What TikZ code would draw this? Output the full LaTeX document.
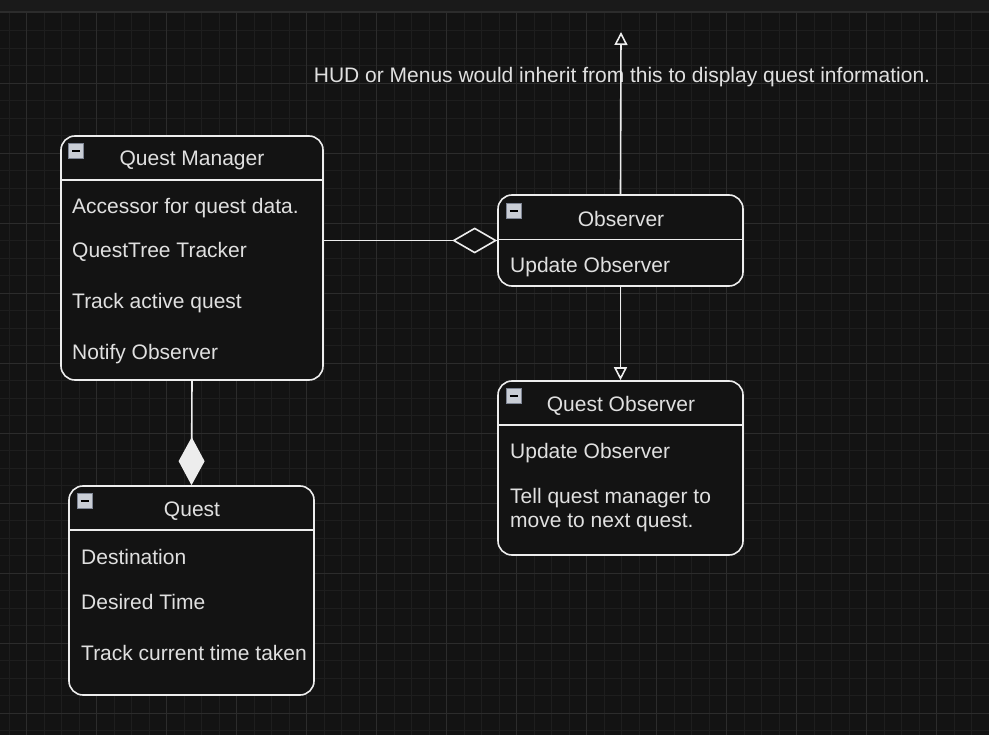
\documentclass[tikz,border=0pt]{standalone}
\usepackage{fontspec}
\setmainfont{Liberation Sans}
\usepackage{tikz}
\usetikzlibrary{arrows.meta, positioning, calc}

\definecolor{bgcol}{HTML}{131313}
\definecolor{topcol}{HTML}{1A1A1A}
\definecolor{gridminor}{HTML}{1E1E1E}
\definecolor{gridmajor}{HTML}{2C2C2C}
\definecolor{linecol}{HTML}{EDEDED}
\definecolor{txtcol}{HTML}{E0E0E0}
\definecolor{iconfill}{HTML}{C9CDD5}
\definecolor{iconline}{HTML}{7E8594}

\begin{document}
\begin{tikzpicture}[
	x=1pt, y=-1pt,
	font=\fontsize{21}{24}\selectfont,
	every node/.style={text=txtcol},
	classbox/.style={draw=linecol, line width=1.6pt, rounded corners=14pt, fill=bgcol, inner sep=0pt},
	sep/.style={draw=linecol, line width=1.6pt},
	title/.style={anchor=center, inner sep=0pt},
	item/.style={anchor=west, inner sep=0pt, align=left},
	icon/.style={draw=iconline, fill=iconfill, line width=0.8pt, minimum size=15pt, inner sep=0pt},
	aggr/.style={draw=linecol, line width=1.6pt, -{Diamond[open, length=45pt, width=26pt, fill=bgcol]}},
	comp/.style={draw=linecol, line width=1.6pt, -{Diamond[length=48pt, width=26pt, fill=linecol]}},
	inherit/.style={draw=linecol, line width=1.6pt, -{Triangle[open, length=13pt, width=13pt, fill=bgcol]}}
]

% Background and grid
\useasboundingbox (0,0) rectangle (989,735);
\fill[bgcol] (0,0) rectangle (989,735);
\foreach \gx in {9.2,26.7,...,989} \draw[gridminor, line width=0.8pt] (\gx,12) -- (\gx,735);
\foreach \gy in {30.8,48.3,...,735} \draw[gridminor, line width=0.8pt] (0,\gy) -- (989,\gy);
\foreach \gx in {26.7,96.7,...,989} \draw[gridmajor, line width=1pt] (\gx,12) -- (\gx,735);
\foreach \gy in {83.3,153.3,...,735} \draw[gridmajor, line width=1pt] (0,\gy) -- (989,\gy);
\fill[topcol] (0,0) rectangle (989,12);
\draw[gridmajor, line width=1.2pt] (0,12) -- (989,12);

% Nodes
\node[classbox, minimum width=262pt, minimum height=244pt] (qm) at (192,258) {};
\node[classbox, minimum width=245pt, minimum height=91pt] (obs) at (620.5,240.5) {};
\node[classbox, minimum width=245pt, minimum height=174pt] (qobs) at (620.5,468) {};
\node[classbox, minimum width=245pt, minimum height=209pt] (quest) at (191.5,590.5) {};

\draw[sep] ($(qm.north west)+(0,45)$) -- ($(qm.north east)+(0,45)$);
\draw[sep] ($(obs.north west)+(0,45.5)$) -- ($(obs.north east)+(0,45.5)$);
\draw[sep] ($(qobs.north west)+(0,45)$) -- ($(qobs.north east)+(0,45)$);
\draw[sep] ($(quest.north west)+(0,45)$) -- ($(quest.north east)+(0,45)$);

\node[icon, below right=8pt and 8pt of qm.north west] (qmicon) {\color{black}\rule{8pt}{2pt}};
\node[icon, below right=9pt and 8.5pt of obs.north west] (obsicon) {\color{black}\rule{8pt}{2pt}};
\node[icon, below right=8pt and 8.5pt of qobs.north west] (qobsicon) {\color{black}\rule{8pt}{2pt}};
\node[icon, below right=8pt and 8.5pt of quest.north west] (questicon) {\color{black}\rule{8pt}{2pt}};

\node[title] (qmtitle) at (192,160) {Quest Manager};
\node[item] (qm1) at (72,208) {Accessor for quest data.};
\node[item] (qm2) at (72,252) {QuestTree Tracker};
\node[item] (qm3) at (72,303) {Track active quest};
\node[item] (qm4) at (72,354) {Notify Observer};

\node[title] (obstitle) at (621,219) {Observer};
\node[item] (obs1) at (510,267) {Update Observer};

\node[title] (qobstitle) at (621,406) {Quest Observer};
\node[item] (qobs1) at (510,453) {Update Observer};
\node[item] (qobs2) at (510,510) {Tell quest manager to\\move to next quest.};

\node[title] (questtitle) at (192,511) {Quest};
\node[item] (quest1) at (81,557) {Destination};
\node[item] (quest2) at (81,602) {Desired Time};
\node[item] (quest3) at (81,653) {Track current time taken};

\node[title] (note) at (622,77) {HUD or Menus would inherit from this to display quest information.};
\coordinate (hud) at (621,32);

% Edges
\draw[aggr] (qm.east |- obs.west) -- (obs.west);
\draw[comp] (qm.south) -- (quest.north);
\draw[inherit] (obs.north) -- (hud);
\draw[inherit] (obs.south) -- (qobs.north);

\end{tikzpicture}
\end{document}
